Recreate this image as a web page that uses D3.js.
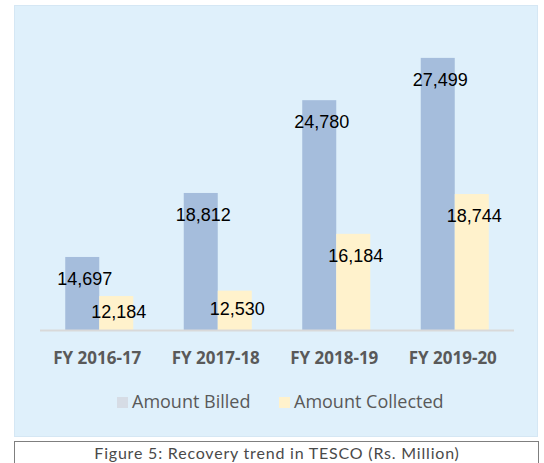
<!DOCTYPE html>
<html>
<head>
<meta charset="utf-8">
<script src="https://cdn.jsdelivr.net/npm/d3@7"></script>
<style>
  body { margin: 0; background: #fff; }
</style>
</head>
<body>
<svg id="chart" width="544" height="463"></svg>
<script>
var years = ["FY 2016-17", "FY 2017-18", "FY 2018-19", "FY 2019-20"],
    seriesNames = ["Amount Billed", "Amount Collected"],
    billed = [14697, 18812, 24780, 27499],
    collected = [12184, 12530, 16184, 18744],
    caption = "Figure 5: Recovery trend in TESCO (Rs. Million)";

var barColors = ["#a5bddc", "#fff2cc"],
    swatchColors = ["#d6dce5", "#fff2cc"];

var svg = d3.select("#chart"),
    base = 330;

// chart area
svg.append("rect")
    .attr("x", 14.5).attr("y", 5.5)
    .attr("width", 523).attr("height", 431)
    .attr("fill", "#dff0fb")
    .attr("stroke", "#d5e7f4");

var x = d3.scaleBand().domain(years).range([40, 514]).paddingInner(0.426).paddingOuter(0.213),
    x1 = d3.scaleBand().domain(seriesNames).range([0, x.bandwidth()]),
    y = d3.scaleLinear().domain([10000, 30000]).range([base, 19]);

var rows = years.map(function(yr, i) {
  return {year: yr, values: [billed[i], collected[i]]};
});

var groups = svg.selectAll("g.grp")
    .data(rows)
    .enter().append("g")
    .attr("class", "grp")
    .attr("transform", d => "translate(" + x(d.year) + ",0)");

groups.selectAll("rect")
    .data(d => d.values.map((v, j) => ({name: seriesNames[j], v: v, j: j})))
    .enter().append("rect")
    .attr("x", d => x1(d.name))
    .attr("y", d => y(d.v))
    .attr("width", x1.bandwidth())
    .attr("height", d => base - y(d.v))
    .attr("fill", d => barColors[d.j]);

// baseline
svg.append("line")
    .attr("x1", 40).attr("x2", 514)
    .attr("y1", base + 0.5).attr("y2", base + 0.5)
    .attr("stroke", "#d9d9d9").attr("stroke-width", 2);

// value labels, inside end
groups.selectAll("text.val")
    .data(d => d.values.map((v, j) => ({name: seriesNames[j], v: v})))
    .enter().append("text")
    .attr("class", "val")
    .attr("x", d => x1(d.name) + x1.bandwidth() / 2 + 2.5)
    .attr("y", function(d) {
      var top = y(d.v);
      return Math.min(top + 28, (top + base) / 2 + 4.5);
    })
    .attr("text-anchor", "middle")
    .attr("font-family", "'Liberation Sans', Arial, sans-serif")
    .attr("font-size", 18)
    .attr("fill", "#000")
    .text(d => d3.format(",")(d.v));

// category axis
var xAxis = svg.append("g")
    .attr("transform", "translate(0," + base + ")")
    .call(d3.axisBottom(x).tickSize(0).tickPadding(0));
xAxis.select(".domain").remove();
xAxis.selectAll("text")
    .attr("y", 34)
    .attr("dy", null)
    .attr("dx", -2)
    .attr("font-family", "'Open Sans', sans-serif")
    .attr("font-weight", "bold")
    .attr("font-size", 17)
    .attr("fill", "#595959");

// legend
var legendX = [117, 279];
var legend = svg.selectAll("g.leg")
    .data(seriesNames)
    .enter().append("g")
    .attr("class", "leg")
    .attr("transform", (d, i) => "translate(" + legendX[i] + ",397)");
legend.append("rect")
    .attr("width", 11).attr("height", 11)
    .attr("fill", (d, i) => swatchColors[i]);
legend.append("text")
    .attr("x", 15).attr("y", 11)
    .attr("font-family", "'Open Sans', sans-serif")
    .attr("font-size", 18)
    .attr("fill", "#595959")
    .text(d => d);

// caption box
svg.append("rect")
    .attr("x", 14.5).attr("y", 441.5)
    .attr("width", 524).attr("height", 30)
    .attr("fill", "#fff")
    .attr("stroke", "#7f7f7f");
svg.append("text")
    .attr("x", 277).attr("y", 459)
    .attr("text-anchor", "middle")
    .attr("font-family", "Lato, sans-serif")
    .attr("font-size", 16)
    .attr("letter-spacing", 0.8)
    .attr("fill", "#4a4a4a")
    .text(caption);
</script>
</body>
</html>
